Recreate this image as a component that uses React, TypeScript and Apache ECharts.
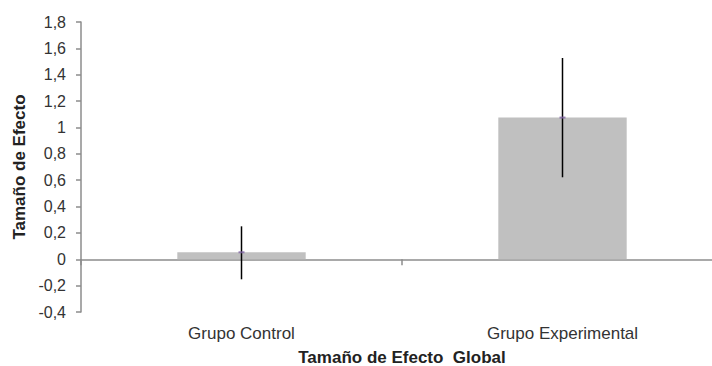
import React, { useEffect, useRef } from "react";
import * as echarts from "echarts";

const categories = ["Grupo Control", "Grupo Experimental"];
const means = [0.053, 1.075];
const errLow = [-0.152, 0.622];
const errHigh = [0.25, 1.527];
const yMin = -0.4;
const yMax = 1.8;
const yInterval = 0.2;
const yTitle = "Tamaño de Efecto";
const xTitle = "Tamaño de Efecto  Global";

const FONT = "'Liberation Sans', Arial, sans-serif";

export default function App() {
  const ref = useRef<HTMLDivElement>(null);
  useEffect(() => {
    if (!ref.current) return;
    const chart = echarts.init(ref.current, undefined, { renderer: "svg" });
    const fmt = (v: number) => String(Number(v.toFixed(1))).replace(".", ",");
    chart.setOption({
      animation: false,
      backgroundColor: "#ffffff",
      grid: { left: 81, top: 22, width: 642, height: 290, outerBoundsMode: "none", containLabel: false },
      xAxis: [
        {
          type: "category",
          data: categories,
          boundaryGap: true,
          axisLine: { onZero: true, lineStyle: { color: "#8c8c8c", width: 1.5 } },
          axisTick: { show: true, length: 6, alignWithLabel: false, lineStyle: { color: "#8c8c8c", width: 1.5 } },
          axisLabel: { show: false },
          splitLine: { show: false },
        },
        {
          type: "category",
          data: categories,
          position: "bottom",
          axisLine: { show: false, onZero: false },
          axisTick: { show: false },
          axisLabel: { show: true, margin: 13, fontFamily: FONT, fontSize: 17, color: "#333333" },
          name: xTitle,
          nameLocation: "middle",
          nameGap: 37,
          nameTextStyle: { fontFamily: FONT, fontSize: 17, fontWeight: "bold", color: "#222222" },
        },
      ],
      yAxis: {
        type: "value",
        min: yMin,
        max: yMax,
        interval: yInterval,
        axisLine: { show: true, lineStyle: { color: "#8c8c8c", width: 1.5 } },
        axisTick: { show: true, length: 5, inside: false, lineStyle: { color: "#8c8c8c", width: 1.5 } },
        axisLabel: { margin: 15, fontFamily: FONT, fontSize: 16, color: "#333333", formatter: fmt },
        splitLine: { show: false },
        name: yTitle,
        nameLocation: "middle",
        nameGap: 49,
        nameRotate: 90,
        nameTextStyle: { fontFamily: FONT, fontSize: 17, fontWeight: "bold", color: "#222222" },
      },
      series: [
        {
          type: "bar",
          xAxisIndex: 0,
          data: means,
          barWidth: "40%",
          itemStyle: { color: "#c0c0c0" },
        },
        {
          type: "custom",
          xAxisIndex: 0,
          data: categories.map((_, i) => [i, errLow[i], errHigh[i]]),
          renderItem: (params: any, api: any) => {
            const x = api.value(0);
            const p1 = api.coord([x, api.value(1)]);
            const p2 = api.coord([x, api.value(2)]);
            return {
              type: "line",
              shape: { x1: p1[0], y1: p1[1], x2: p2[0], y2: p2[1] },
              style: { stroke: "#000000", lineWidth: 1.5 },
            };
          },
          z: 3,
        },
        {
          type: "scatter",
          xAxisIndex: 0,
          data: means,
          symbol: "rect",
          symbolSize: [6, 2],
          itemStyle: { color: "#8064a2" },
          z: 4,
        },
      ],
    });
    return () => chart.dispose();
  }, []);
  return (
    <div
      ref={ref}
      style={{ position: "fixed", left: 0, top: 0, width: 712, height: 366 }}
    />
  );
}
